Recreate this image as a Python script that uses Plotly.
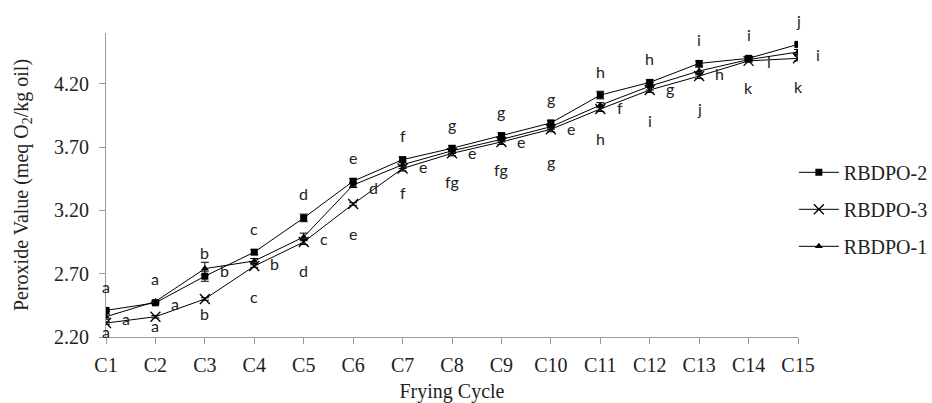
import plotly.graph_objects as go

cycles = ["C1","C2","C3","C4","C5","C6","C7","C8","C9","C10","C11","C12","C13","C14","C15"]

rbdpo2 = [2.41, 2.47, 2.68, 2.87, 3.14, 3.43, 3.60, 3.69, 3.79, 3.89, 4.11, 4.21, 4.36, 4.40, 4.51]
rbdpo3 = [2.31, 2.36, 2.50, 2.76, 2.95, 3.25, 3.53, 3.65, 3.74, 3.84, 4.00, 4.15, 4.26, 4.38, 4.40]
rbdpo1 = [2.36, 2.48, 2.74, 2.80, 2.99, 3.40, 3.56, 3.67, 3.76, 3.86, 4.03, 4.18, 4.30, 4.39, 4.45]

err2 = [0.01, 0.01, 0.04, 0.02, 0.03, 0.02, 0.02, 0.02, 0.02, 0.02, 0.03, 0.02, 0.02, 0.01, 0.01]
err3 = [0.01, 0.01, 0.01, 0.01, 0.02, 0.01, 0.02, 0.02, 0.02, 0.02, 0.02, 0.02, 0.02, 0.01, 0.02]
err1 = [0.02, 0.01, 0.05, 0.02, 0.03, 0.02, 0.03, 0.02, 0.02, 0.02, 0.02, 0.03, 0.03, 0.01, 0.02]

labels_above = ["a","a","b","c","d","e","f","g","g","g","h","h","i","i","j"]   # RBDPO-2
labels_right = ["a","a","b","b","c","d","e","e","e","e","f","g","h","i","i"]   # RBDPO-1
labels_below = ["a","a","b","c","d","e","f","fg","fg","g","h","i","j","k","k"]  # RBDPO-3

below_shift = [8, 9, 14, 30, 28, 29, 24, 28, 28, 32, 29, 30, 32, 27, 28]

serif = "Liberation Serif"
sans = "Lato"
axis_col = "#9a9a9a"
fs = 20

fig = go.Figure()

def add(name, vals, errs, symbol, size, lw, group):
    fig.add_trace(go.Scatter(
        x=cycles, y=vals, name=name, mode="lines+markers",
        line=dict(color="black", width=1),
        marker=dict(symbol=symbol, size=size, color="black",
                    line=dict(color="black", width=lw)),
        error_y=dict(type="data", array=errs, color="black", thickness=1, width=4),
        legendgroup=group,
    ))

add("RBDPO-2", rbdpo2, err2, "square", 7, 0, "g2")
add("RBDPO-3", rbdpo3, err3, "x-thin", 10, 1.3, "g3")
add("RBDPO-1", rbdpo1, err1, "triangle-up", 7, 0, "g1")

ann = []
lf = dict(family=sans, size=16, color="#222")
for i, c in enumerate(cycles):
    ann.append(dict(x=c, y=rbdpo2[i], text=labels_above[i], showarrow=False,
                    yshift=24, font=lf))
    ann.append(dict(x=c, y=rbdpo1[i], text=labels_right[i], showarrow=False,
                    xshift=20, yshift=-2, font=lf))
    ann.append(dict(x=c, y=rbdpo3[i], text=labels_below[i], showarrow=False,
                    yshift=-below_shift[i], font=lf))

fig.update_layout(
    width=932, height=403,
    margin=dict(l=106, r=134, t=33, b=66, autoexpand=False),
    paper_bgcolor="white", plot_bgcolor="white",
    font=dict(family=serif, size=fs, color="#222"),
    annotations=ann,
    showlegend=True,
    legend=dict(x=0.994, y=0.42, xanchor="left", yanchor="middle",
                font=dict(family=serif, size=fs, color="#222"),
                traceorder="grouped", tracegroupgap=8, itemwidth=40,
                bgcolor="rgba(0,0,0,0)"),
    xaxis=dict(
        type="category", range=[0, 14],
        showline=True, linecolor=axis_col, linewidth=1,
        ticks="outside", ticklen=6, tickcolor=axis_col,
        showgrid=False, zeroline=False, ticklabelstandoff=4,
        tickfont=dict(family=serif, size=fs),
        title=dict(text="Frying Cycle", font=dict(family=serif, size=fs), standoff=10),
    ),
    yaxis=dict(
        range=[2.2, 4.6], tick0=2.2, dtick=0.5, tickformat=".2f",
        showline=True, linecolor=axis_col, linewidth=1,
        ticks="outside", ticklen=6, tickcolor=axis_col,
        showgrid=False, zeroline=False, ticklabelstandoff=6,
        tickfont=dict(family=serif, size=fs),
        title=dict(text="Peroxide Value (meq O<sub>2</sub>/kg oil)",
                   font=dict(family=serif, size=fs), standoff=20),
    ),
)

fig.write_html("out.html")
